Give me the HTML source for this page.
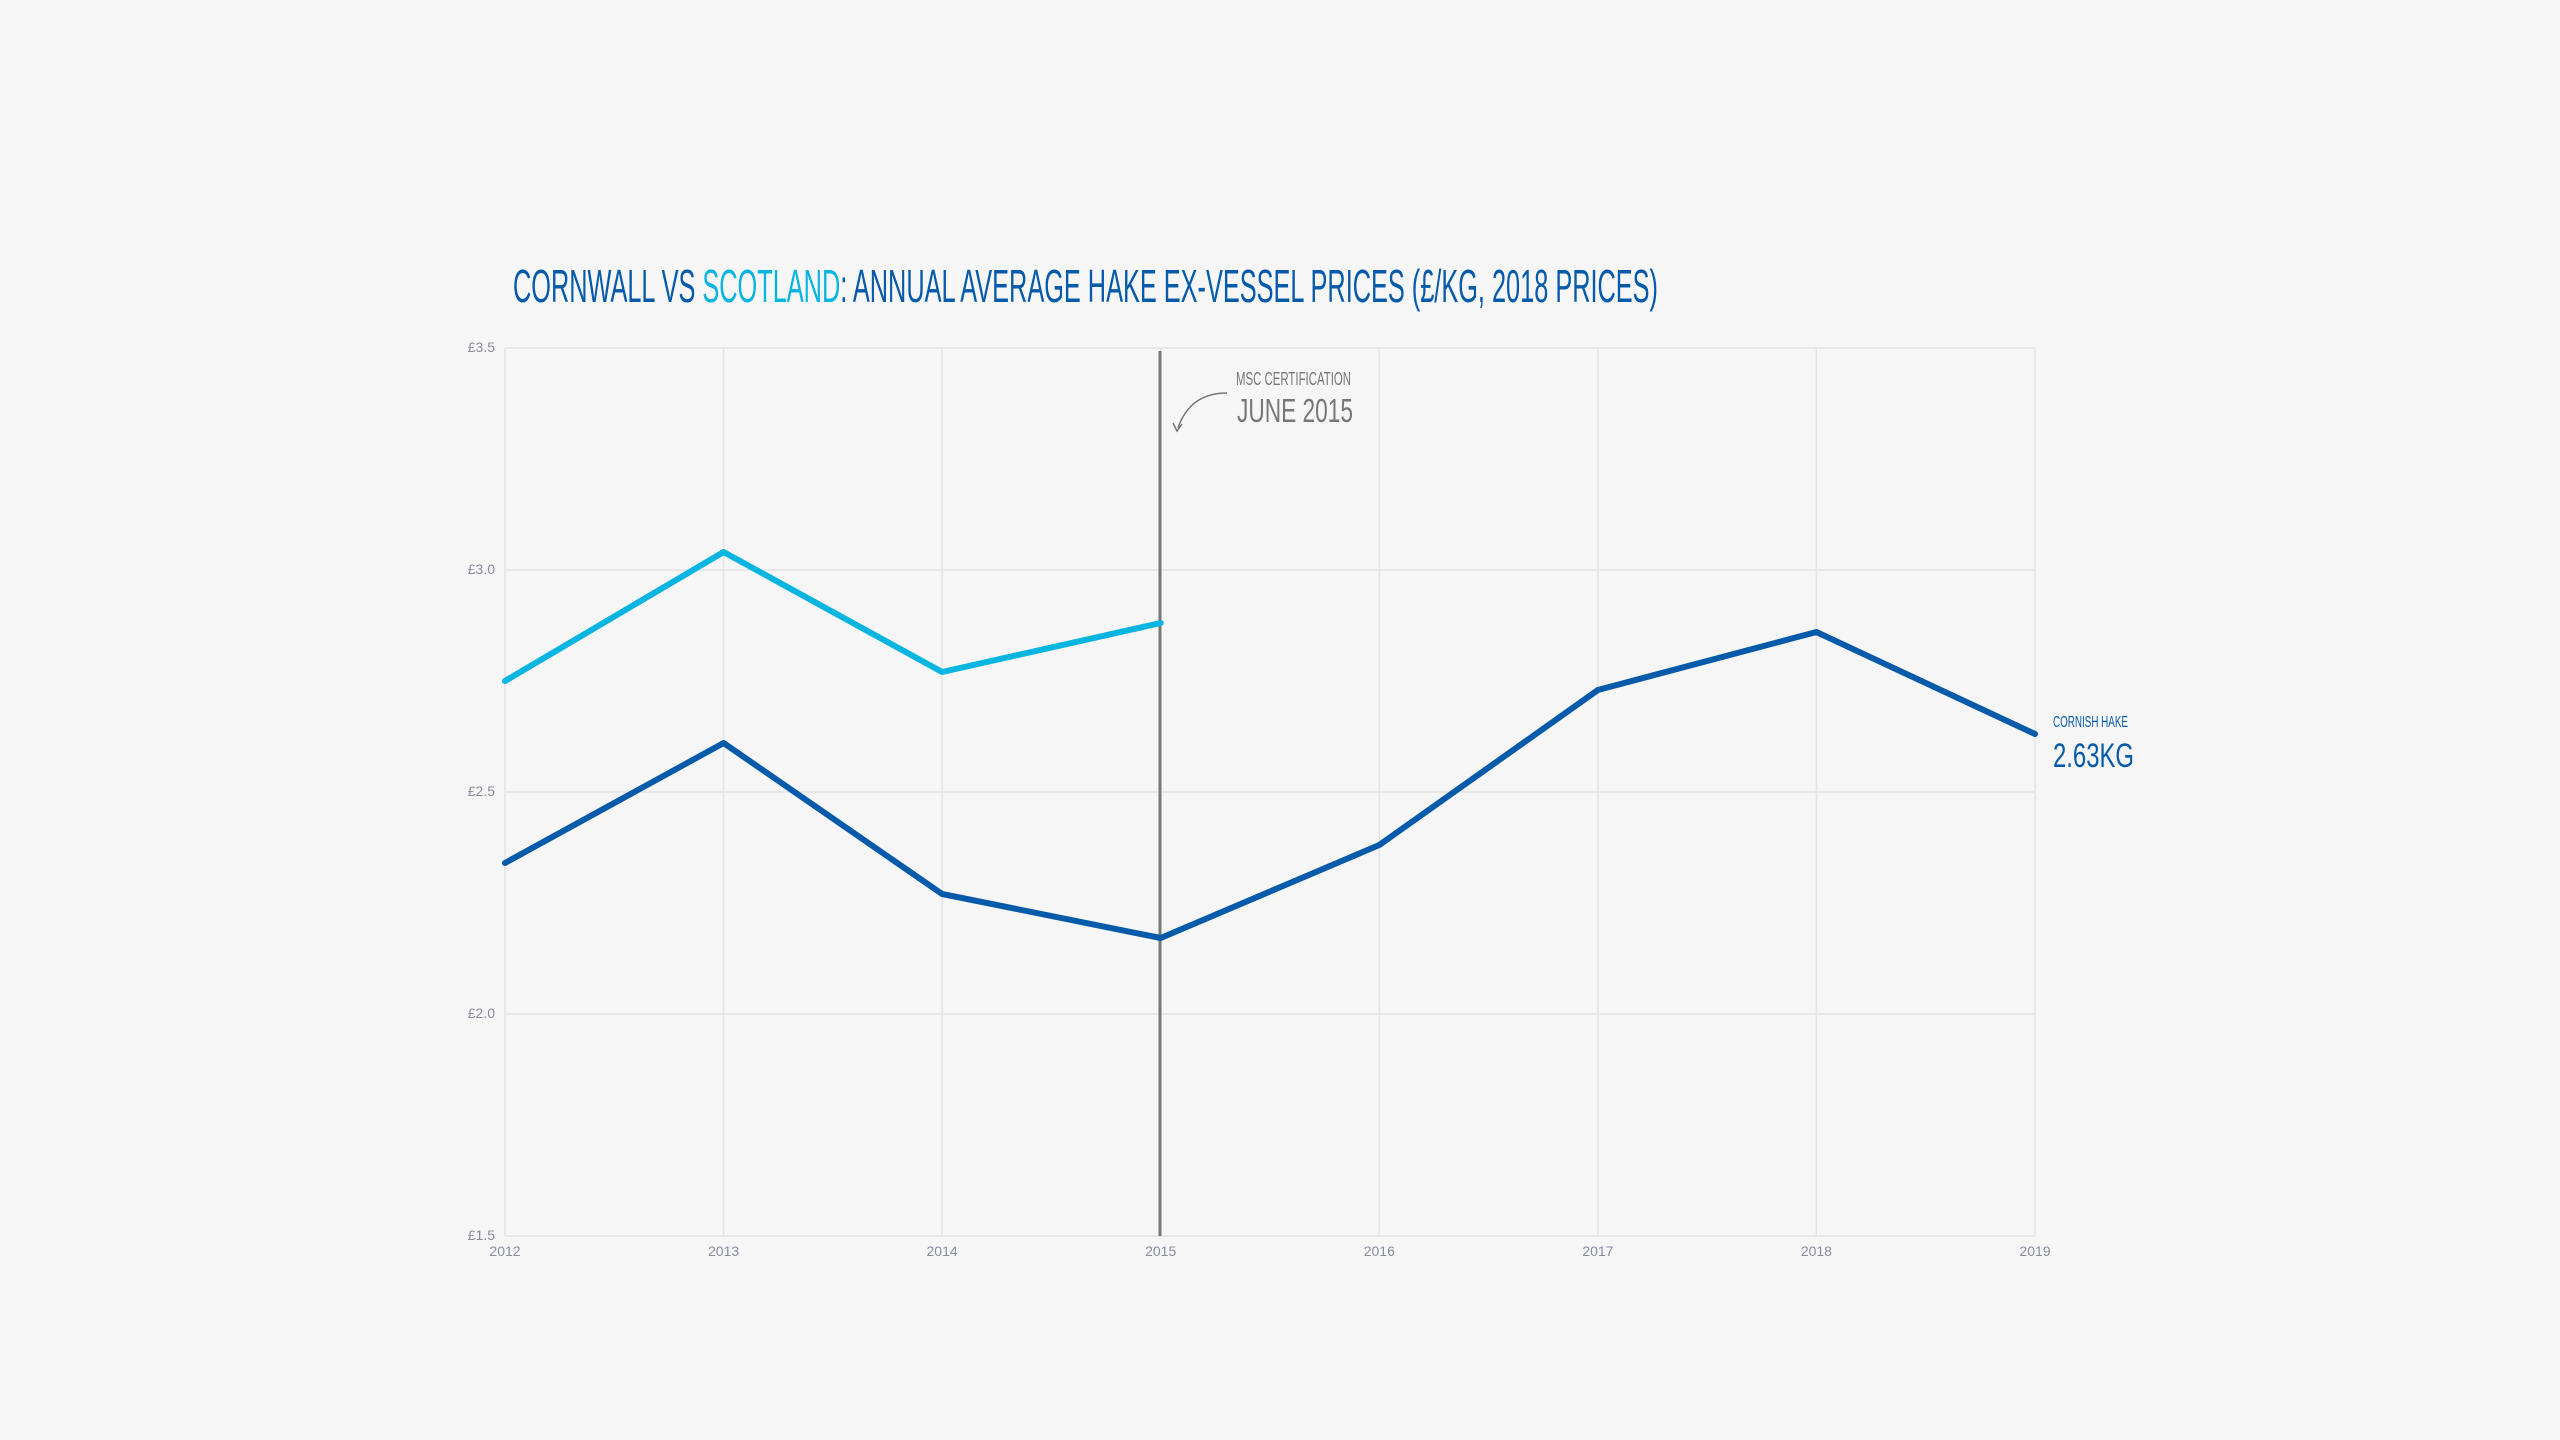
<!DOCTYPE html>
<html><head><meta charset="utf-8"><style>
html,body{margin:0;padding:0;background:#f6f6f6;}
svg{display:block;}
text{font-family:"Liberation Sans Narrow","Liberation Sans",sans-serif;}
.t{font-family:"Liberation Sans",sans-serif;fill:#8a8c9e;font-size:14px;}
</style></head><body>
<svg width="2560" height="1440" viewBox="0 0 2560 1440" xmlns="http://www.w3.org/2000/svg">
<rect width="2560" height="1440" fill="#f6f6f6"/>
<text x="513" y="302" font-size="46" textLength="1145" lengthAdjust="spacingAndGlyphs" fill="#065aaa">CORNWALL VS <tspan fill="#08b5e0">SCOTLAND</tspan>: ANNUAL AVERAGE HAKE EX-VESSEL PRICES (£/KG, 2018 PRICES)</text>
<g stroke="#e4e4e4" stroke-width="1.5">
<line x1="505" y1="348" x2="2035" y2="348"/>
<line x1="505" y1="570" x2="2035" y2="570"/>
<line x1="505" y1="792" x2="2035" y2="792"/>
<line x1="505" y1="1014" x2="2035" y2="1014"/>
<line x1="505" y1="1236" x2="2035" y2="1236"/>
<line x1="505" y1="348" x2="505" y2="1236"/>
<line x1="723.6" y1="348" x2="723.6" y2="1236"/>
<line x1="942.1" y1="348" x2="942.1" y2="1236"/>
<line x1="1160.7" y1="348" x2="1160.7" y2="1236"/>
<line x1="1379.3" y1="348" x2="1379.3" y2="1236"/>
<line x1="1597.9" y1="348" x2="1597.9" y2="1236"/>
<line x1="1816.4" y1="348" x2="1816.4" y2="1236"/>
<line x1="2035" y1="348" x2="2035" y2="1236"/>
</g>
<g class="t" text-anchor="end">
<text x="495" y="352">£3.5</text>
<text x="495" y="574">£3.0</text>
<text x="495" y="796">£2.5</text>
<text x="495" y="1018">£2.0</text>
<text x="495" y="1240">£1.5</text>
</g>
<g class="t" text-anchor="middle">
<text x="505" y="1256">2012</text>
<text x="723.6" y="1256">2013</text>
<text x="942.1" y="1256">2014</text>
<text x="1160.7" y="1256">2015</text>
<text x="1379.3" y="1256">2016</text>
<text x="1597.9" y="1256">2017</text>
<text x="1816.4" y="1256">2018</text>
<text x="2035" y="1256">2019</text>
</g>
<line x1="1160" y1="351" x2="1160" y2="1236" stroke="#777" stroke-width="3"/>
<polyline fill="none" stroke="#08b5e0" stroke-width="6" stroke-linecap="round" stroke-linejoin="round"
points="505,681 723.6,552 942.1,672 1160.7,623"/>
<polyline fill="none" stroke="#065aaa" stroke-width="6" stroke-linecap="round" stroke-linejoin="round"
points="505,863 723.6,743 942.1,894 1160.7,938 1379.3,845 1597.9,690 1816.4,632 2035,734"/>
<text x="1236" y="385" font-size="18" textLength="115" lengthAdjust="spacingAndGlyphs" fill="#777">MSC CERTIFICATION</text>
<text x="1237" y="422" font-size="33" textLength="116" lengthAdjust="spacingAndGlyphs" fill="#777">JUNE 2015</text>
<path d="M1227,393 Q1190,393 1178,428" fill="none" stroke="#777" stroke-width="1.5"/>
<path d="M1173,423 L1177,431 L1182,424" fill="none" stroke="#777" stroke-width="1.5"/>
<text x="2053" y="727" font-size="16" textLength="75" lengthAdjust="spacingAndGlyphs" fill="#065aaa">CORNISH HAKE</text>
<text x="2053" y="767" font-size="34" textLength="81" lengthAdjust="spacingAndGlyphs" fill="#065aaa">2.63KG</text>
</svg>
</body></html>
